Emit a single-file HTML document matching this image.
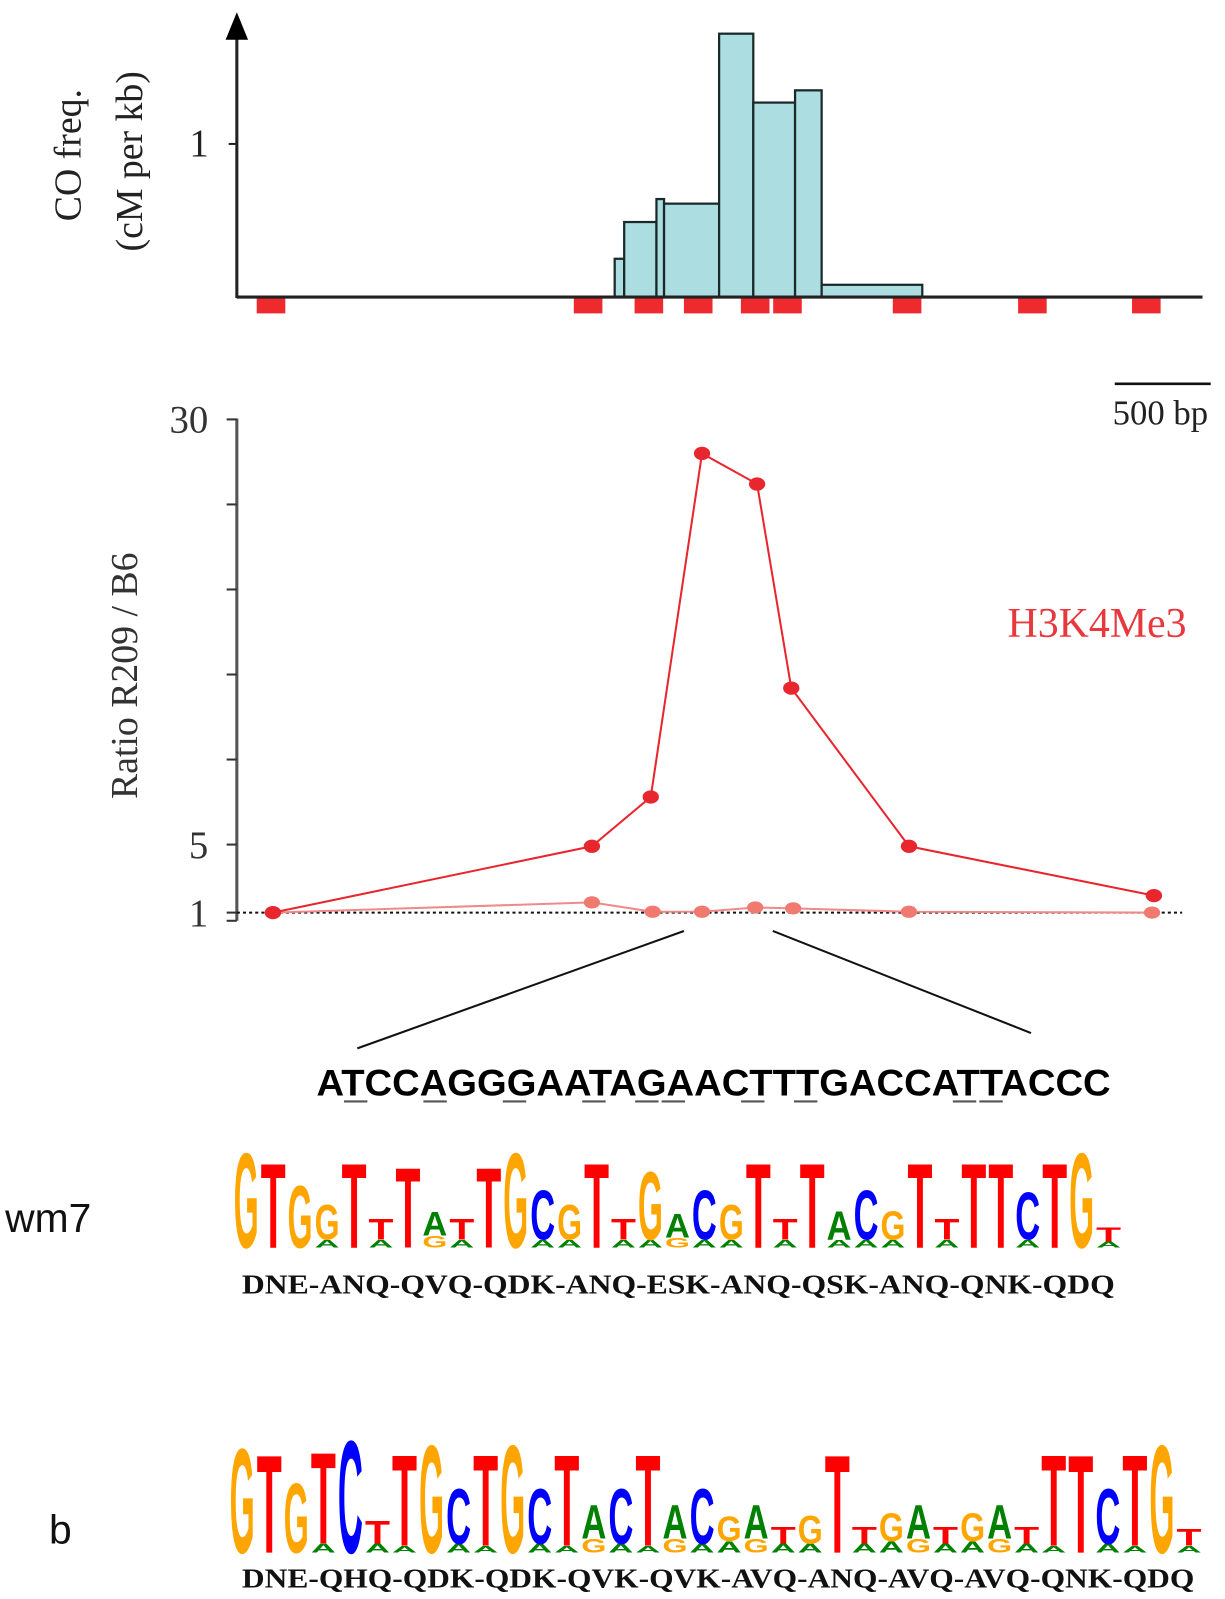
<!DOCTYPE html>
<html><head><meta charset="utf-8"><style>
html,body{margin:0;padding:0;background:#fff;}
svg{display:block;}
</style></head><body>
<svg id="fig" width="1225" height="1599" viewBox="0 0 1200 1566.4" xmlns="http://www.w3.org/2000/svg">
<g id="topchart"></g>
<g id="mid"></g>
<g id="seq"></g>
<g id="logos"></g>
</svg>
<script>
// ---- data ----
const binEdgesKb = [1.99, 2.04, 2.21, 2.25, 2.54, 2.72, 2.94, 3.08, 3.61];
const coFreq = [0.25, 0.49, 0.64, 0.61, 1.72, 1.27, 1.35, 0.08];
const markerKb = [0.18, 1.85, 2.17, 2.43, 2.73, 2.90, 3.53, 4.19, 4.79];
const probeKb = [0.19, 1.87, 2.18, 2.45, 2.74, 2.92, 3.54, 4.83];
const h3k4Ratio = [1.0, 4.9, 7.8, 28.0, 26.2, 14.2, 4.9, 2.0];
const controlKb = [0.19, 1.87, 2.19, 2.45, 2.73, 2.93, 3.54, 4.82];
const controlRatio = [1.0, 1.6, 1.05, 1.05, 1.3, 1.25, 1.05, 1.0];
const ratioTicks = [1, 5, 10, 15, 20, 25, 30];
const ratioTickLabels = ["1", "5", "", "", "", "", "30"];

const NS = "http://www.w3.org/2000/svg";
function mk(parent, tag, attrs, text) {
  const el = document.createElementNS(NS, tag);
  for (const k in attrs) el.setAttribute(k, attrs[k]);
  if (text !== undefined) el.textContent = text;
  parent.appendChild(el);
  return el;
}
const xKb = kb => 232 + kb * 186;
const yCO = v => 291 - v * 150;
const yR = v => 894 - (v - 1) * 16.66;
const serif = '"Liberation Serif", serif';

// ---- top histogram ----
const topG = document.getElementById('topchart');
for (let i = 0; i < coFreq.length; i++) {
  const x0 = xKb(binEdgesKb[i]), x1 = xKb(binEdgesKb[i + 1]);
  const r = mk(topG, 'rect', {x: x0, y: yCO(coFreq[i]), width: x1 - x0, height: yCO(0) - yCO(coFreq[i]), fill: '#acdde0', stroke: '#1a2a2a', 'stroke-width': 2.2});
  
  
}
for (let i = 0; i < markerKb.length; i++) {
  const r = mk(topG, 'rect', {x: xKb(markerKb[i]) - 14, y: 292, width: 28, height: 15, fill: '#ee2a2e'});
  
  
}
let e;
e = mk(topG, 'line', {x1: 232, y1: 291, x2: 1178, y2: 291, stroke: '#222', 'stroke-width': 3});


e = mk(topG, 'line', {x1: 232, y1: 292, x2: 232, y2: 36, stroke: '#222', 'stroke-width': 3});


e = mk(topG, 'polygon', {points: '232,12 221,39 243,39', fill: '#000'});


mk(topG, 'line', {x1: 224, y1: yCO(1), x2: 232, y2: yCO(1), stroke: '#222', 'stroke-width': 2});
e = mk(topG, 'text', {x: 195, y: yCO(1) + 12, 'font-family': serif, 'font-size': 38, 'text-anchor': 'middle', fill: '#222'}, '1');


e = mk(topG, 'text', {transform: 'translate(79,152) rotate(-90)', 'font-family': serif, 'font-size': 37, 'text-anchor': 'middle', fill: '#222'}, 'CO freq.');


e = mk(topG, 'text', {transform: 'translate(139,158) rotate(-90)', 'font-family': serif, 'font-size': 37, 'text-anchor': 'middle', fill: '#222'}, '(cM per kb)');


e = mk(topG, 'line', {x1: 1092, y1: 376, x2: 1186, y2: 376, stroke: '#111', 'stroke-width': 2.5});


e = mk(topG, 'text', {x: 1090, y: 416, 'font-family': serif, 'font-size': 34, fill: '#222'}, '500 bp');



// ---- ratio chart ----
const mid = document.getElementById('mid');
e = mk(mid, 'line', {x1: 232, y1: 410, x2: 232, y2: 902, stroke: '#555', 'stroke-width': 3});


mk(mid, 'line', {x1: 222, y1: 902, x2: 232, y2: 902, stroke: '#333', 'stroke-width': 2});
for (let i = 0; i < ratioTicks.length; i++) {
  const y = yR(ratioTicks[i]);
  mk(mid, 'line', {x1: 222, y1: y, x2: 232, y2: y, stroke: '#333', 'stroke-width': 2});
  if (ratioTickLabels[i]) {
    const t = mk(mid, 'text', {x: 204, y: y + 13, 'font-family': serif, 'font-size': 38, 'text-anchor': 'end', fill: '#333'}, ratioTickLabels[i]);
    
    
  }
}
e = mk(mid, 'line', {x1: 232, y1: yR(1), x2: 1158, y2: yR(1), stroke: '#111', 'stroke-width': 2, 'stroke-dasharray': '3,3'});


e = mk(mid, 'text', {transform: 'translate(134,662) rotate(-90)', 'font-family': serif, 'font-size': 37, 'text-anchor': 'middle', fill: '#333'}, 'Ratio R209 / B6');


e = mk(mid, 'polyline', {points: controlKb.map((k, i) => xKb(k) + ',' + yR(controlRatio[i])).join(' '), fill: 'none', stroke: '#f08a8a', 'stroke-width': 2});


for (let i = 0; i < controlKb.length; i++) {
  const c = mk(mid, 'ellipse', {cx: xKb(controlKb[i]), cy: yR(controlRatio[i]), rx: 8, ry: 6, fill: '#f07a70'});
  
  
}
e = mk(mid, 'polyline', {points: probeKb.map((k, i) => xKb(k) + ',' + yR(h3k4Ratio[i])).join(' '), fill: 'none', stroke: '#e8262d', 'stroke-width': 2});


for (let i = 0; i < probeKb.length; i++) {
  const c = mk(mid, 'ellipse', {cx: xKb(probeKb[i]), cy: yR(h3k4Ratio[i]), rx: 8, ry: 6.5, fill: '#e8262d'});
  
  
}
e = mk(mid, 'text', {x: 987, y: 624, 'font-family': serif, 'font-size': 41, fill: '#e8383d'}, 'H3K4Me3');


e = mk(mid, 'line', {x1: 670, y1: 912, x2: 350, y2: 1027, stroke: '#111', 'stroke-width': 2});


e = mk(mid, 'line', {x1: 757, y1: 912, x2: 1010, y2: 1012, stroke: '#111', 'stroke-width': 2});



// ---- sequence ----
const seqG = document.getElementById('seq');
const seqStr = "ATCCAGGGAATAGAACTTTGACCATTACCC";
const underIdx = [1, 4, 7, 10, 12, 13, 16, 18, 24, 25];
e = mk(seqG, 'text', {x: 310, y: 1073, 'font-family': '"Liberation Sans", sans-serif', 'font-weight': 'bold', 'font-size': 36, textLength: 778, lengthAdjust: 'spacingAndGlyphs', fill: '#000'}, seqStr);


const cw = 778 / 30;
underIdx.forEach(i => {
  const u = mk(seqG, 'line', {x1: 310 + i * cw + 1, y1: 1079, x2: 310 + (i + 1) * cw - 2, y2: 1079, stroke: '#555', 'stroke-width': 2});
  
  
});

// ---- logos ----
const colors = {G: '#ffa500', T: '#ff0000', A: '#008000', C: '#0000ff'};
const wm7Cols = ["G1","T.89","G.66","A.08 G.37","T.89","A.08 T.22","T.84","G.12 A.25","A.08 T.22","T.84","G1","A.08 C.52","A.08 G.37","T.89","A.08 T.22","A.08 G.72","G.1 A.25","A.08 C.52","A.08 G.37","T.89","A.08 T.22","T.89","A.08 A.3","A.08 C.52","A.08 G.3","T.89","A.08 T.22","T.89","T.89","A.08 C.5","T.89","G1","A.06 T.15"];
const bCols = ["G.93","T.87","G.62","A.08 T.81","C1","A.08 T.2","A.06 T.81","G.96","A.08 C.49","A.06 T.81","G.96","A.08 C.49","A.06 T.81","G.12 A.3","A.08 C.49","A.06 T.81","G.12 A.3","A.08 C.49","A.1 G.22","G.12 A.3","A.08 T.15","A.08 G.25","T.87","A.08 T.15","A.1 G.25","G.12 A.3","A.08 T.15","A.1 G.25","G.12 A.3","A.08 T.15","A.06 T.81","T.87","A.08 C.49","A.06 T.81","G.96","A.06 T.15"];
const logosG = document.getElementById('logos');
function drawLogo(cols, x0, colW, base, maxH, name) {
  const g = mk(logosG, 'g', {});
  
  
  cols.forEach((c, i) => {
    let y = base;
    c.split(' ').forEach(s => {
      const L = s[0], h = parseFloat(s.slice(1)) * maxH;
      const t = mk(g, 'text', {x: x0 + i * colW + 1, y: y, 'font-family': '"Liberation Sans", sans-serif', 'font-weight': 'bold', 'font-size': (h / 0.73).toFixed(2), textLength: colW - 2, lengthAdjust: 'spacingAndGlyphs', fill: colors[L]}, L);
      
      
      y -= h;
    });
  });
}
drawLogo(wm7Cols, 228, 26.4, 1222, 97, 'wm7-logo');
drawLogo(bCols, 224, 26.5, 1521, 115, 'b-logo');
e = mk(logosG, 'text', {x: 5, y: 1207, 'font-family': '"Liberation Sans", sans-serif', 'font-size': 40, fill: '#111'}, 'wm7');


e = mk(logosG, 'text', {x: 48, y: 1512, 'font-family': '"Liberation Sans", sans-serif', 'font-size': 40, fill: '#111'}, 'b');


e = mk(logosG, 'text', {x: 237, y: 1267, 'font-family': '"Liberation Serif", serif', 'font-weight': 'bold', 'font-size': 27, textLength: 855, lengthAdjust: 'spacingAndGlyphs', fill: '#111'}, 'DNE-ANQ-QVQ-QDK-ANQ-ESK-ANQ-QSK-ANQ-QNK-QDQ');


e = mk(logosG, 'text', {x: 237, y: 1555, 'font-family': '"Liberation Serif", serif', 'font-weight': 'bold', 'font-size': 27, textLength: 933, lengthAdjust: 'spacingAndGlyphs', fill: '#111'}, 'DNE-QHQ-QDK-QDK-QVK-QVK-AVQ-ANQ-AVQ-AVQ-QNK-QDQ');


</script>
</body></html>
